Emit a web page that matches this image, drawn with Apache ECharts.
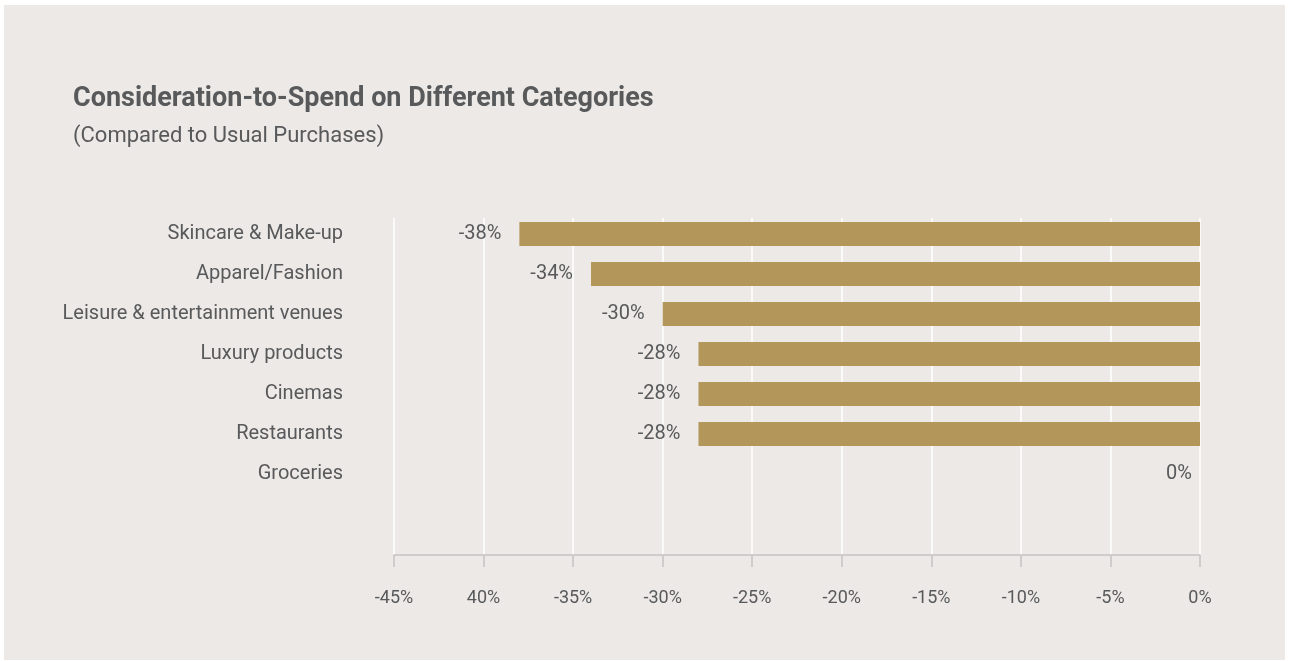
<!DOCTYPE html>
<html>
<head>
<meta charset="utf-8">
<script src="https://cdn.jsdelivr.net/npm/echarts@6/dist/echarts.min.js"></script>
<style>
html,body{margin:0;padding:0;background:#ffffff;}
#chart{width:1290px;height:661px;}
</style>
</head>
<body>
<div id="chart"></div>
<script>
const categories = ['Skincare & Make-up','Apparel/Fashion','Leisure & entertainment venues','Luxury products','Cinemas','Restaurants','Groceries'];
const values = [-38, -34, -30, -28, -28, -28, 0];
const tickLabels = ['-45%','40%','-35%','-30%','-25%','-20%','-15%','-10%','-5%','0%'];
const titleText = 'Consideration-to-Spend on Different Categories';
const subtitleText = '(Compared to Usual Purchases)';

const FONT = 'Roboto';
const TXT = '#58595b';
const chart = echarts.init(document.getElementById('chart'), null, {renderer:'canvas'});

const barData = values.map(v => v === 0 ? {value: v, label: {distance: 8}} : v);

chart.setOption({
  animation: false,
  graphic: [{type:'rect', z:-10, silent:true, shape:{x:4,y:5,width:1281,height:655}, style:{fill:'#ece9e6'}}],
  title: {
    text: titleText, subtext: subtitleText, left: 68, top: 81, itemGap: 12,
    textStyle: {fontFamily: FONT, fontSize: 27, fontWeight: 'bold', color: TXT},
    subtextStyle: {fontFamily: FONT, fontSize: 22, color: TXT}
  },
  grid: [
    {left: 394, right: 90, top: 214, height: 280},
    {left: 394, right: 90, top: 218, bottom: 106}
  ],
  xAxis: [
    {gridIndex: 0, type: 'value', min: -45, max: 0, interval: 5, show: false},
    {gridIndex: 1, type: 'value', min: -45, max: 0, interval: 5,
     axisLine: {show: true, lineStyle: {color: '#c3c3c3', width: 1.5}},
     axisTick: {show: true, length: 12, lineStyle: {color: '#c3c3c3', width: 1.5}},
     splitLine: {show: true, lineStyle: {color: '#ffffff', width: 1.5}},
     axisLabel: {margin: 34, fontFamily: FONT, fontSize: 18, color: TXT,
       formatter: v => tickLabels[Math.round((v + 45) / 5)]}}
  ],
  yAxis: [
    {gridIndex: 0, type: 'category', data: categories, inverse: true,
     axisLine: {show: false}, axisTick: {show: false}, splitLine: {show: false},
     axisLabel: {margin: 51, fontFamily: FONT, fontSize: 20, color: TXT, padding: [4, 0, 0, 0]}},
    {gridIndex: 1, type: 'value', min: 0, max: 1, show: false, splitLine: {show: false}}
  ],
  series: [{
    type: 'bar', xAxisIndex: 0, yAxisIndex: 0, data: barData, barWidth: 24,
    itemStyle: {color: '#b39659'},
    label: {show: true, position: 'left', distance: 18, fontFamily: FONT, fontSize: 20, color: TXT,
      padding: [4, 0, 0, 0], formatter: p => p.value + '%'}
  }]
});
</script>
</body>
</html>
